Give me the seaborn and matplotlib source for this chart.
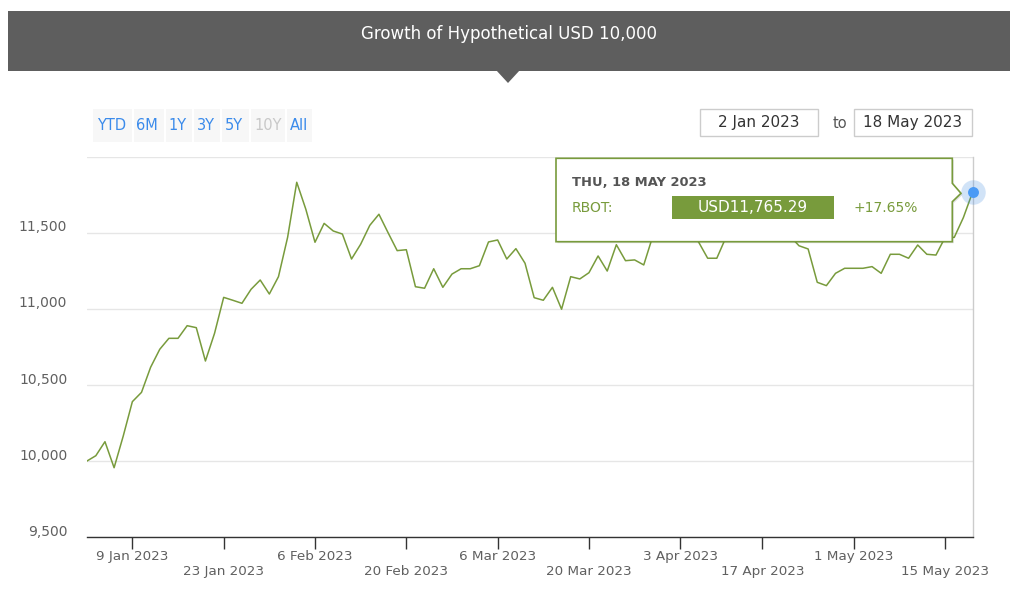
import matplotlib
matplotlib.use("Agg")
import matplotlib.pyplot as plt
import matplotlib.transforms as mtransforms
import numpy as np
import pandas as pd
import seaborn as sns
from matplotlib.patches import Polygon, Rectangle

W, H = 1024, 592

# trading days shown on the chart (ordinal axis, one market holiday skipped)
holidays = ["2023-04-07"]
dates = pd.bdate_range("2023-01-02", "2023-05-18")
dates = dates[~dates.isin(pd.to_datetime(holidays))]

fund = "RBOT"
growth = [
    10000, 10036, 10128, 9957, 10165, 10391, 10452, 10617, 10735, 10807,
    10807, 10890, 10877, 10658, 10840, 11076, 11057, 11037, 11129, 11190,
    11098, 11212, 11470, 11832, 11654, 11438, 11562, 11512, 11492, 11328,
    11425, 11549, 11622, 11501, 11383, 11389, 11146, 11136, 11264, 11142,
    11229, 11264, 11264, 11284, 11440, 11453, 11328, 11396, 11300, 11074,
    11057, 11142, 10998, 11212, 11197, 11238, 11348, 11249, 11422, 11317,
    11322, 11289, 11480, 11560, 11610, 11570, 11500, 11440, 11333, 11333,
    11470, 11540, 11600, 11570, 11620, 11560, 11510, 11480, 11415, 11394,
    11175, 11153, 11234, 11267, 11267, 11267, 11278, 11234, 11359, 11359,
    11333, 11420, 11359, 11354, 11470, 11470, 11600, 11765.29,
]
tick_dates = ["2023-01-09", "2023-01-23", "2023-02-06", "2023-02-20", "2023-03-06",
              "2023-03-20", "2023-04-03", "2023-04-17", "2023-05-01", "2023-05-15"]
y_ticks = [9500, 10000, 10500, 11000, 11500, 12000]
range_buttons = ["YTD", "6M", "1Y", "3Y", "5Y", "10Y", "All"]

GREEN = "#789b3c"
BLUE = "#3b8beb"
GREY_TXT = "#606060"


def fxy(x, y):
    """pixel position (top-left origin) -> figure fraction"""
    return x / W, 1 - y / H


sns.set_theme(style="white")
plt.rcParams["font.family"] = ["DejaVu Sans"]

fig = plt.figure(figsize=(W / 100, H / 100), dpi=100)
left, top, right, bottom = 86.7, 156.7, 972.5, 537.3
ax = fig.add_axes([left / W, 1 - bottom / H, (right - left) / W, (bottom - top) / H])

df = pd.DataFrame({"pos": np.arange(len(dates)), "value": growth, "date": dates})
sns.lineplot(data=df, x="pos", y="value", color=GREEN, linewidth=1.1, ax=ax)

ax.set_xlim(0, len(dates) - 1)
ax.set_ylim(y_ticks[0], y_ticks[-1])
ax.set_xlabel("")
ax.set_ylabel("")

# y axis: gridlines, labels sit a bit above their line, top one hidden
ax.set_yticks(y_ticks)
ax.set_yticklabels([f"{v:,}" for v in y_ticks[:-1]] + [""])
ax.yaxis.grid(True, color="#e6e6e6", linewidth=1)
ax.tick_params(axis="y", length=0, pad=14, labelsize=10, labelcolor=GREY_TXT)
lift = mtransforms.ScaledTranslation(0, 7 / 100, fig.dpi_scale_trans)
for lab in ax.get_yticklabels():
    lab.set_transform(lab.get_transform() + lift)

# x axis: ordinal positions, staggered labels
tick_pos = [dates.get_loc(pd.Timestamp(t)) for t in tick_dates]
tick_lab = []
for i, t in enumerate(pd.to_datetime(tick_dates)):
    txt = f"{t.day} {t:%b %Y}"
    tick_lab.append(txt if i % 2 == 0 else "\n" + txt)
ax.set_xticks(tick_pos)
ax.set_xticklabels(tick_lab)
ax.tick_params(axis="x", length=8.5, width=1, color="#333333", pad=0.5,
               labelsize=9.7, labelcolor=GREY_TXT, bottom=True)

for side in ["left", "top"]:
    ax.spines[side].set_visible(False)
ax.spines["bottom"].set_color("#333333")
ax.spines["bottom"].set_linewidth(1)
ax.spines["right"].set_color("#cccccc")
ax.spines["right"].set_linewidth(1)

# hovered point
last_x, last_y = df["pos"].iloc[-1], df["value"].iloc[-1]
ax.scatter([last_x], [last_y], s=310, color="#4a90e2", alpha=0.25, linewidths=0, clip_on=False, zorder=5)
ax.scatter([last_x], [last_y], s=62, color="#4a9af5", linewidths=0, clip_on=False, zorder=6)

# header band with pointer
fig.patches.append(Rectangle(fxy(8, 71), 1002 / W, 60 / H, transform=fig.transFigure,
                             facecolor="#5e5e5e", edgecolor="none"))
fig.patches.append(Polygon([fxy(496, 70), fxy(520, 70), fxy(508, 83)], closed=True,
                           transform=fig.transFigure, facecolor="#5e5e5e", edgecolor="none"))
fig.text(*fxy(509, 34), "Growth of Hypothetical USD 10,000", color="white",
         fontsize=12, ha="center", va="center")

# range selector buttons
fig.patches.append(Rectangle(fxy(93, 142), 219 / W, 33 / H, transform=fig.transFigure,
                             facecolor="#f7f7f7", edgecolor="none"))
btn_x = [112, 147, 178, 205.5, 234, 268, 299]
for sep in [133, 165, 193, 221, 250, 286]:
    fig.patches.append(Rectangle(fxy(sep - 1, 142), 2 / W, 33 / H, transform=fig.transFigure,
                                 facecolor="white", edgecolor="none"))
for name, bx in zip(range_buttons, btn_x):
    fig.text(*fxy(bx, 125), name, color="#c8c8c8" if name == "10Y" else BLUE,
             fontsize=10.5, ha="center", va="center")

# date range inputs
for x0, d in [(700, dates[0]), (854, dates[-1])]:
    fig.patches.append(Rectangle(fxy(x0, 136), 118 / W, 27 / H, transform=fig.transFigure,
                                 facecolor="white", edgecolor="#cccccc", linewidth=1))
    fig.text(*fxy(x0 + 59, 123), f"{d.day} {d:%b %Y}", color="#333333",
             fontsize=11, ha="center", va="center")
fig.text(*fxy(840, 123), "to", color="#555555", fontsize=10.5, ha="center", va="center")

# tooltip
tip = [(556, 158.3), (952.3, 158.3), (952.3, 183.3), (961, 193.3), (952.3, 201.7),
       (952.3, 241.7), (556, 241.7)]
fig.patches.append(Polygon([fxy(x + 1.5, y + 1.5) for x, y in tip], closed=True,
                           transform=fig.transFigure, facecolor="black", alpha=0.12,
                           edgecolor="none"))
fig.patches.append(Polygon([fxy(x, y) for x, y in tip], closed=True, transform=fig.transFigure,
                           facecolor="white", edgecolor=GREEN, linewidth=1.2))
last_date = dates[-1]
fig.text(*fxy(571.7, 182), f"{last_date:%a, %d %b %Y}".upper(), color="#555555",
         fontsize=9.4, fontweight="bold", ha="left", va="center")
fig.text(*fxy(571.7, 208.3), f"{fund}:", color=GREEN, fontsize=10, ha="left", va="center")
fig.patches.append(Rectangle(fxy(672.3, 219.3), 161.7 / W, 23.6 / H, transform=fig.transFigure,
                             facecolor=GREEN, edgecolor="none"))
fig.text(*fxy(753, 207.8), f"USD{growth[-1]:,.2f}", color="white", fontsize=11,
         ha="center", va="center")
pct = (growth[-1] / growth[0] - 1) * 100
fig.text(*fxy(885.5, 208.3), f"{pct:+.2f}%", color=GREEN, fontsize=10, ha="center", va="center")

fig.savefig("out.png", dpi=100)
plt.close(fig)
